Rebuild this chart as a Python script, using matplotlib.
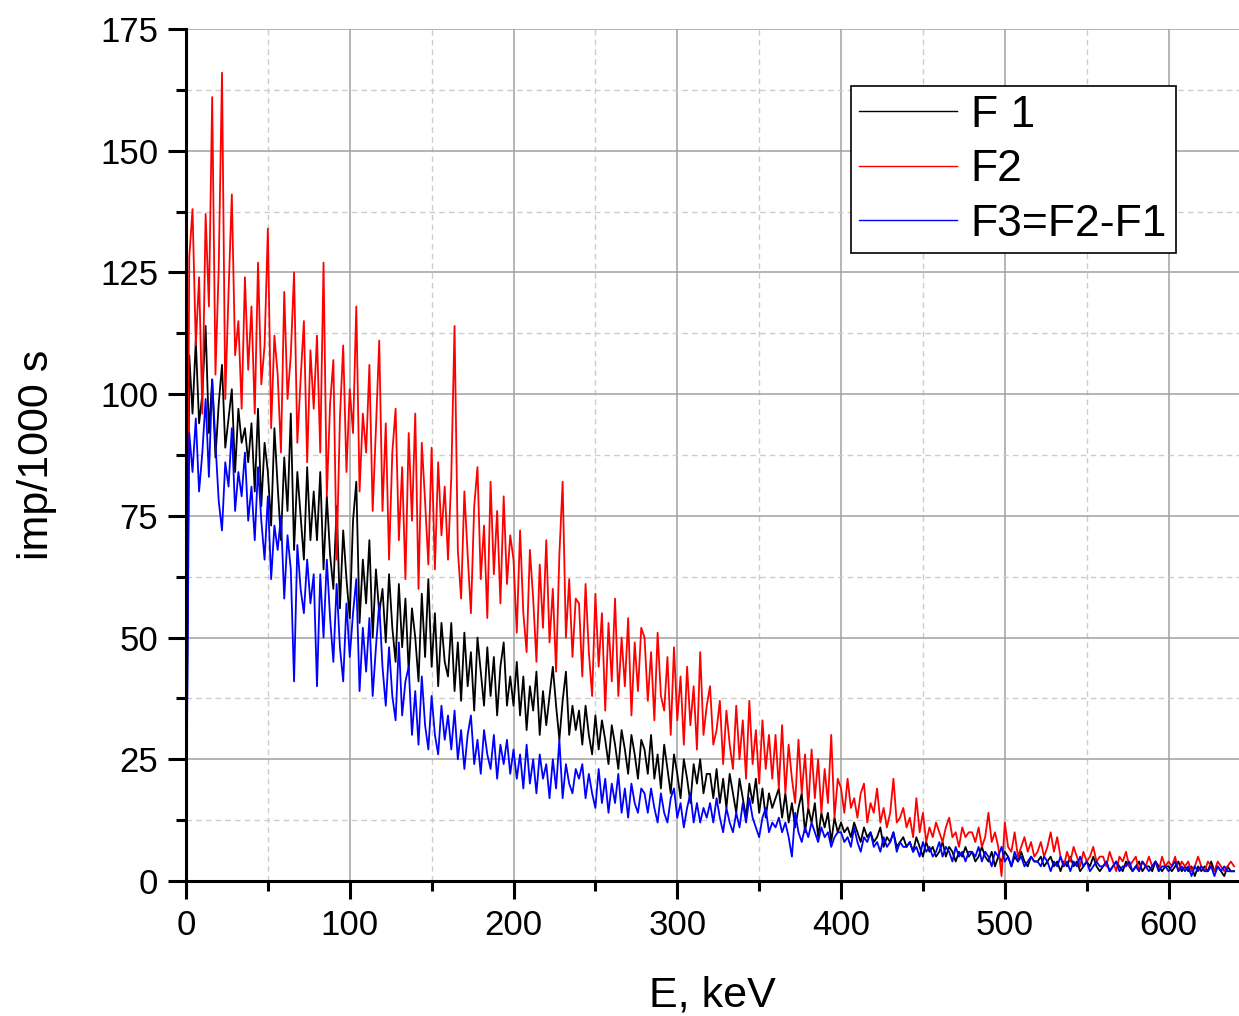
import numpy as np
import matplotlib
matplotlib.use("Agg")
import matplotlib.pyplot as plt
from matplotlib.ticker import MultipleLocator

plt.rcParams['font.family'] = ['Liberation Sans', 'DejaVu Sans']

# ---------------- data (2 keV step) ----------------
e_step = 2  # keV per point

f1 = [0, 108, 96, 111, 94, 100, 114, 92, 103, 87, 98, 106, 89, 95, 101, 84, 97, 90, 93, 86,
      94, 80, 97, 77, 90, 84, 73, 93, 81, 70, 87, 76, 96, 68, 84, 75, 66, 85, 70, 80,
      70, 84, 64, 79, 67, 60, 77, 56, 72, 62, 54, 74, 82, 53, 66, 57, 70, 50, 64, 55,
      60, 49, 63, 52, 45, 61, 48, 58, 43, 56, 50, 41, 59, 46, 62, 44, 55, 40, 53, 45,
      42, 53, 39, 49, 37, 51, 40, 47, 35, 50, 43, 36, 48, 38, 46, 34, 44, 49, 36, 42,
      36, 45, 34, 42, 31, 40, 35, 43, 30, 39, 32, 38, 44, 36, 29, 37, 43, 30, 36, 31,
      35, 28, 36, 30, 26, 34, 27, 33, 29, 24, 32, 28, 23, 31, 27, 22, 30, 26, 21, 29,
      27, 22, 30, 21, 26, 19, 28, 23, 18, 26, 22, 17, 25, 21, 16, 24, 20, 25, 18, 22,
      22, 17, 23, 16, 21, 15, 22, 18, 14, 21, 17, 13, 20, 16, 21, 14, 19, 13, 18, 15,
      17, 19, 13, 18, 12, 16, 11, 15, 18, 10, 15, 12, 16, 9, 14, 11, 14, 8, 13, 10,
      12, 10, 11, 9, 12, 10, 8, 11, 9, 10, 8, 9, 11, 7, 9, 8, 10, 7, 8, 9,
      7, 8, 6, 9, 7, 5, 8, 6, 7, 5, 6, 8, 5, 7, 6, 4, 6, 5, 7, 5,
      6, 4, 5, 7, 5, 4, 6, 3, 5, 4, 6, 5, 3, 5, 4, 6, 4, 3, 5, 4,
      4, 5, 3, 4, 5, 3, 4, 2, 4, 3, 5, 3, 4, 2, 3, 4, 3, 5, 3, 2,
      3, 4, 2, 3, 4, 3, 2, 4, 3, 2, 3, 4, 2, 3, 3, 2, 4, 3, 2, 3,
      3, 2, 3, 4, 2, 3, 2, 3, 1, 3, 2, 3, 2, 4, 2, 3, 2, 1, 3, 2,
      2]

f2 = [0, 128, 138, 110, 124, 96, 137, 118, 161, 104, 126, 166, 99, 121, 141, 108, 115, 97, 124, 105,
      118, 96, 127, 102, 110, 134, 93, 112, 104, 88, 121, 99, 108, 125, 90, 103, 115, 86, 109, 97,
      112, 88, 127, 79, 98, 107, 66, 95, 110, 84, 101, 92, 118, 80, 96, 88, 106, 76, 93, 111,
      76, 94, 66, 88, 97, 70, 85, 62, 92, 74, 96, 60, 90, 78, 65, 89, 64, 86, 71, 81,
      66, 83, 114, 68, 58, 80, 67, 55, 77, 85, 62, 73, 54, 82, 63, 76, 57, 79, 61, 71,
      66, 51, 72, 55, 47, 68, 58, 45, 65, 52, 70, 49, 60, 43, 67, 82, 50, 62, 46, 58,
      57, 42, 61, 47, 38, 59, 44, 55, 35, 53, 41, 58, 38, 50, 40, 54, 34, 49, 39, 52,
      50, 37, 47, 33, 51, 38, 35, 46, 30, 48, 33, 42, 28, 44, 32, 40, 27, 47, 30, 36,
      40, 28, 31, 37, 24, 35, 28, 23, 36, 25, 33, 21, 37, 24, 31, 20, 33, 23, 30, 21,
      30, 19, 32, 18, 28, 21, 16, 29, 18, 26, 15, 27, 17, 25, 14, 23, 16, 30, 13, 21,
      19, 14, 21, 15, 17, 13, 18, 20, 12, 16, 14, 19, 12, 15, 11, 14, 21, 12, 13, 15,
      11, 13, 9, 17, 10, 14, 8, 11, 9, 12, 10, 8, 11, 13, 9, 10, 7, 11, 9, 10,
      10, 8, 11, 7, 9, 14, 8, 10, 7, 1, 12, 7, 6, 10, 5, 7, 9, 6, 8, 5,
      6, 8, 5, 7, 10, 6, 9, 5, 3, 6, 4, 7, 5, 3, 6, 4, 5, 7, 4, 5,
      5, 3, 6, 4, 2, 5, 4, 6, 3, 4, 5, 2, 4, 3, 5, 3, 4, 2, 5, 3,
      4, 3, 5, 2, 4, 3, 4, 2, 3, 5, 3, 2, 4, 3, 2, 4, 3, 2, 3, 4,
      3]

f3 = [0, 92, 84, 95, 80, 88, 99, 83, 103, 90, 78, 72, 86, 81, 93, 76, 84, 79, 88, 74,
      81, 70, 85, 74, 66, 79, 62, 73, 68, 75, 58, 71, 64, 41, 69, 60, 55, 66, 57, 63,
      40, 63, 50, 66, 54, 45, 61, 48, 41, 57, 46, 55, 62, 39, 52, 43, 54, 38, 48, 57,
      44, 36, 48, 38, 33, 49, 34, 41, 44, 30, 39, 28, 42, 32, 27, 38, 30, 26, 36, 29,
      34, 27, 35, 25, 31, 23, 30, 34, 24, 29, 22, 31, 26, 23, 30, 21, 28, 24, 29, 22,
      27, 21, 26, 19, 28, 20, 25, 18, 26, 21, 24, 17, 25, 19, 29, 17, 24, 20, 18, 23,
      21, 24, 17, 22, 18, 15, 23, 16, 21, 14, 20, 16, 22, 14, 19, 13, 20, 16, 14, 19,
      18, 14, 19, 15, 12, 18, 14, 12, 17, 19, 13, 16, 11, 15, 18, 12, 16, 12, 15, 13,
      16, 12, 17, 13, 10, 15, 12, 10, 14, 11, 16, 12, 17, 13, 11, 9, 13, 15, 10, 12,
      11, 13, 10, 12, 9, 5, 14, 10, 8, 11, 9, 12, 10, 8, 11, 9, 10, 7, 9, 10,
      10, 8, 9, 7, 11, 8, 6, 9, 8, 10, 7, 8, 6, 9, 7, 8, 10, 6, 8, 7,
      7, 8, 6, 7, 5, 8, 6, 7, 5, 6, 8, 5, 7, 6, 4, 7, 5, 6, 4, 6,
      6, 5, 7, 4, 6, 5, 3, 6, 5, 7, 4, 5, 3, 6, 4, 5, 3, 4, 5, 4,
      4, 3, 5, 4, 2, 4, 3, 5, 3, 4, 2, 4, 3, 5, 3, 4, 2, 3, 4, 3,
      3, 4, 2, 3, 4, 2, 3, 3, 4, 2, 3, 2, 4, 3, 2, 3, 4, 2, 3, 3,
      2, 3, 4, 2, 3, 2, 3, 1, 3, 2, 3, 2, 2, 3, 1, 3, 2, 3, 2, 2,
      2]

labels = ['F 1', 'F2', 'F3=F2-F1']
colors = ['black', 'red', 'blue']

energy = np.arange(len(f1)) * e_step

# ---------------- plot ----------------
fig = plt.figure(figsize=(12.39, 10.16), dpi=100)
ax = fig.add_axes([0.1501, 0.1329, 0.8499, 0.8386])

for y, lab, c in zip([f1, f2, f3], labels, colors):
    ax.plot(energy, y, color=c, lw=1.3, label=lab)

ax.set_xlim(0, 643)
ax.set_ylim(0, 175)
ax.xaxis.set_major_locator(MultipleLocator(100))
ax.xaxis.set_minor_locator(MultipleLocator(50))
ax.yaxis.set_major_locator(MultipleLocator(25))
ax.yaxis.set_minor_locator(MultipleLocator(12.5))

ax.grid(which='major', color='#a0a0a0', lw=1.1, ls='-')
ax.grid(which='minor', color='#cccccc', lw=1.0, ls=(0, (4, 3)))
ax.set_axisbelow(True)

for s in ['top', 'right']:
    ax.spines[s].set_visible(False)
for s in ['left', 'bottom']:
    ax.spines[s].set_linewidth(2.2)

ax.tick_params(which='major', direction='out', length=13, width=2.2, labelsize=25, pad=7)
ax.tick_params(which='minor', direction='out', length=7, width=2.2)

ax.set_xlabel('E, keV', fontsize=31, labelpad=24)
ax.set_ylabel('imp/1000 s', fontsize=31, labelpad=31)

leg = ax.legend(loc='upper right', bbox_to_anchor=(0.940, 0.933), borderaxespad=0,
                fontsize=32, handlelength=2.2, handletextpad=0.3, labelspacing=0.3,
                borderpad=0.2, fancybox=False, framealpha=1, edgecolor='black')
leg.get_frame().set_linewidth(1.2)
for h in leg.get_lines():
    h.set_linewidth(1.0)

fig.savefig('out.png', dpi=100)
